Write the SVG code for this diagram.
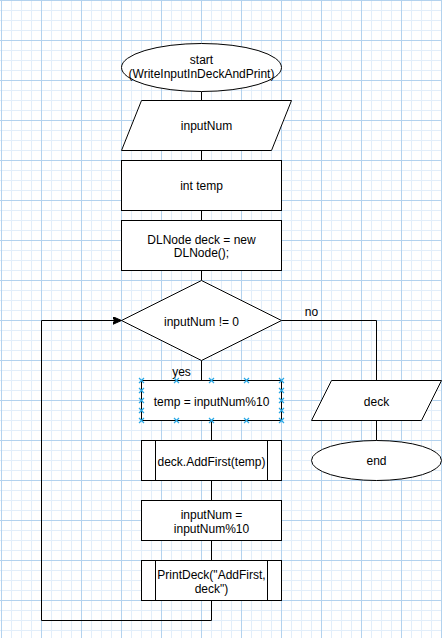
<svg xmlns="http://www.w3.org/2000/svg" width="442" height="638" viewBox="0 0 442 638">
<defs>
<pattern id="gMinor" x="1" y="0" width="10" height="10" patternUnits="userSpaceOnUse">
<rect x="0" y="0" width="1" height="10" fill="#e2eefa"/>
<rect x="0" y="0" width="10" height="1" fill="#e2eefa"/>
</pattern>
<pattern id="gMajor" x="1" y="0" width="40" height="40" patternUnits="userSpaceOnUse">
<rect x="0" y="0" width="1" height="40" fill="#b3d2ee"/>
<rect x="0" y="0" width="40" height="1" fill="#b3d2ee"/>
</pattern>
<marker id="arrow" viewBox="0 0 10 8" refX="9" refY="4" markerWidth="10" markerHeight="8" markerUnits="userSpaceOnUse" orient="auto">
<path d="M0,0 L9,4 L0,8 L2,4 Z" fill="#000" stroke="#000" stroke-width="1"/>
</marker>
<path id="cross" d="M-2.5,-2.5 L2.5,2.5 M-2.5,2.5 L2.5,-2.5"/>
</defs>
<style>
.shape{fill:#fff;stroke:#000;stroke-width:1}
.edge{fill:none;stroke:#000;stroke-width:1}
.lbl{font-family:"Liberation Sans",Arial,Helvetica,sans-serif;font-size:12px;fill:#000;text-anchor:middle}
.mk{stroke:#29a9e6;stroke-width:1.2;fill:none}
</style>
<rect width="442" height="638" fill="#fff"/>
<rect width="442" height="638" fill="url(#gMinor)"/>
<rect width="442" height="638" fill="url(#gMajor)"/>
<g transform="translate(0.5,0.5)">
<g id="connectors">
<path class="edge" d="M201,91 L201,100"/>
<path class="edge" d="M201,150 L201,160"/>
<path class="edge" d="M201,210 L201,220"/>
<path class="edge" d="M201,270 L201,280"/>
<path class="edge" d="M201,360 L201,380"/>
<path class="edge" d="M211,420 L211,440"/>
<path class="edge" d="M211,480 L211,500"/>
<path class="edge" d="M211,540 L211,560"/>
<path class="edge" d="M211,600 L211,620 L41,620 L41,320 L121,320" marker-end="url(#arrow)"/>
<path class="edge" d="M281,320 L376,320 L376,380"/>
<path class="edge" d="M376,420 L376,440"/>
<text class="lbl" x="181" y="375">yes</text>
<text class="lbl" x="311" y="315">no</text>
</g>
<g id="start">
<ellipse class="shape" cx="201" cy="67" rx="80" ry="24"/>
<text class="lbl" x="201" y="63">start</text>
<text class="lbl" x="201" y="77">(WriteInputInDeckAndPrint)</text>
</g>
<g id="inputNumIn">
<path class="shape" d="M141,100 L291,100 L271,150 L121,150 Z"/>
<text class="lbl" x="206" y="129">inputNum</text>
</g>
<g id="intTemp">
<rect class="shape" x="121" y="160" width="160" height="50"/>
<text class="lbl" x="201" y="189">int temp</text>
</g>
<g id="dlnode">
<rect class="shape" x="121" y="220" width="160" height="50"/>
<text class="lbl" x="201" y="243">DLNode deck = new</text>
<text class="lbl" x="201" y="256">DLNode();</text>
</g>
<g id="cond">
<path class="shape" d="M201,280 L281,320 L201,360 L121,320 Z"/>
<text class="lbl" x="201" y="325">inputNum != 0</text>
</g>
<g id="tempAssign">
<rect class="shape" x="141" y="380" width="140" height="40"/>
<text class="lbl" x="211" y="405">temp = inputNum%10</text>
<g class="mk">
<use href="#cross" x="141" y="380"/><use href="#cross" x="176" y="380"/><use href="#cross" x="211" y="380"/><use href="#cross" x="246" y="380"/><use href="#cross" x="281" y="380"/>
<use href="#cross" x="141" y="420"/><use href="#cross" x="176" y="420"/><use href="#cross" x="211" y="420"/><use href="#cross" x="246" y="420"/><use href="#cross" x="281" y="420"/>
<use href="#cross" x="141" y="390"/><use href="#cross" x="141" y="400"/><use href="#cross" x="141" y="410"/>
<use href="#cross" x="281" y="390"/><use href="#cross" x="281" y="400"/><use href="#cross" x="281" y="410"/>
</g>
</g>
<g id="addFirst">
<rect class="shape" x="141" y="440" width="140" height="40"/>
<path class="edge" d="M155,440 L155,480 M267,440 L267,480"/>
<text class="lbl" x="211" y="465">deck.AddFirst(temp)</text>
</g>
<g id="inputNumAssign">
<rect class="shape" x="141" y="500" width="140" height="40"/>
<text class="lbl" x="211" y="518">inputNum =</text>
<text class="lbl" x="211" y="532">inputNum%10</text>
</g>
<g id="printDeck">
<rect class="shape" x="141" y="560" width="140" height="40"/>
<path class="edge" d="M155,560 L155,600 M267,560 L267,600"/>
<text class="lbl" x="211" y="578">PrintDeck("AddFirst,</text>
<text class="lbl" x="211" y="592">deck")</text>
</g>
<g id="deckOut">
<path class="shape" d="M331,380 L441,380 L421,420 L311,420 Z"/>
<text class="lbl" x="376" y="405">deck</text>
</g>
<g id="end">
<ellipse class="shape" cx="376" cy="460" rx="65" ry="20"/>
<text class="lbl" x="376" y="464">end</text>
</g>
</g>
</svg>
